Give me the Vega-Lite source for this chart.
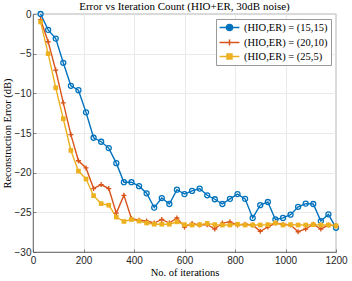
{
  "$schema": "https://vega.github.io/schema/vega-lite/v6.json",
  "width": 303,
  "height": 238,
  "padding": {"left": 2, "top": 0, "right": 12, "bottom": 2},
  "title": {"text": "Error vs Iteration Count (HIO+ER, 30dB noise)", "font": "Liberation Serif", "fontSize": 11, "fontWeight": "normal", "color": "#000", "offset": -3},
  "config": {
    "view": {"stroke": "#555", "strokeWidth": 0.7},
    "axis": {
      "grid": true, "gridColor": "#e4e4e4", "gridWidth": 0.8,
      "domainColor": "#555", "domainWidth": 0.7,
      "ticks": true, "tickSize": -3, "tickColor": "#555", "tickWidth": 0.7,
      "labelFlush": false, "labelOverlap": false,
      "labelFont": "Liberation Sans", "labelFontSize": 10, "labelColor": "#262626",
      "titleFont": "Liberation Serif", "titleFontSize": 10.5, "titleFontWeight": "normal", "titleColor": "#000"
    }
  },
  "data": {"values": [
    {"x":30,"y":0,"s":"(HIO,ER) = (15,15)"},
    {"x":60,"y":-2.0,"s":"(HIO,ER) = (15,15)"},
    {"x":90,"y":-3.1,"s":"(HIO,ER) = (15,15)"},
    {"x":120,"y":-6.15,"s":"(HIO,ER) = (15,15)"},
    {"x":150,"y":-9.05,"s":"(HIO,ER) = (15,15)"},
    {"x":180,"y":-9.6,"s":"(HIO,ER) = (15,15)"},
    {"x":210,"y":-12.4,"s":"(HIO,ER) = (15,15)"},
    {"x":240,"y":-15.6,"s":"(HIO,ER) = (15,15)"},
    {"x":270,"y":-16.1,"s":"(HIO,ER) = (15,15)"},
    {"x":300,"y":-16.9,"s":"(HIO,ER) = (15,15)"},
    {"x":330,"y":-18.8,"s":"(HIO,ER) = (15,15)"},
    {"x":360,"y":-21.2,"s":"(HIO,ER) = (15,15)"},
    {"x":390,"y":-21.2,"s":"(HIO,ER) = (15,15)"},
    {"x":420,"y":-21.7,"s":"(HIO,ER) = (15,15)"},
    {"x":450,"y":-22.6,"s":"(HIO,ER) = (15,15)"},
    {"x":480,"y":-24.4,"s":"(HIO,ER) = (15,15)"},
    {"x":510,"y":-23.2,"s":"(HIO,ER) = (15,15)"},
    {"x":540,"y":-23.95,"s":"(HIO,ER) = (15,15)"},
    {"x":570,"y":-22.15,"s":"(HIO,ER) = (15,15)"},
    {"x":600,"y":-22.7,"s":"(HIO,ER) = (15,15)"},
    {"x":630,"y":-22.3,"s":"(HIO,ER) = (15,15)"},
    {"x":660,"y":-22.0,"s":"(HIO,ER) = (15,15)"},
    {"x":690,"y":-22.85,"s":"(HIO,ER) = (15,15)"},
    {"x":720,"y":-23.35,"s":"(HIO,ER) = (15,15)"},
    {"x":750,"y":-23.95,"s":"(HIO,ER) = (15,15)"},
    {"x":780,"y":-23.3,"s":"(HIO,ER) = (15,15)"},
    {"x":810,"y":-22.7,"s":"(HIO,ER) = (15,15)"},
    {"x":840,"y":-23.3,"s":"(HIO,ER) = (15,15)"},
    {"x":870,"y":-25.7,"s":"(HIO,ER) = (15,15)"},
    {"x":900,"y":-24.1,"s":"(HIO,ER) = (15,15)"},
    {"x":930,"y":-23.7,"s":"(HIO,ER) = (15,15)"},
    {"x":960,"y":-25.9,"s":"(HIO,ER) = (15,15)"},
    {"x":990,"y":-25.7,"s":"(HIO,ER) = (15,15)"},
    {"x":1020,"y":-25.3,"s":"(HIO,ER) = (15,15)"},
    {"x":1050,"y":-24.3,"s":"(HIO,ER) = (15,15)"},
    {"x":1080,"y":-23.9,"s":"(HIO,ER) = (15,15)"},
    {"x":1110,"y":-23.95,"s":"(HIO,ER) = (15,15)"},
    {"x":1140,"y":-26.1,"s":"(HIO,ER) = (15,15)"},
    {"x":1170,"y":-25.25,"s":"(HIO,ER) = (15,15)"},
    {"x":1200,"y":-26.95,"s":"(HIO,ER) = (15,15)"},
    {"x":30,"y":-0.7,"s":"(HIO,ER) = (20,10)"},
    {"x":60,"y":-3.5,"s":"(HIO,ER) = (20,10)"},
    {"x":90,"y":-7.07,"s":"(HIO,ER) = (20,10)"},
    {"x":120,"y":-11.2,"s":"(HIO,ER) = (20,10)"},
    {"x":150,"y":-15.2,"s":"(HIO,ER) = (20,10)"},
    {"x":180,"y":-18.5,"s":"(HIO,ER) = (20,10)"},
    {"x":210,"y":-19.4,"s":"(HIO,ER) = (20,10)"},
    {"x":240,"y":-22.0,"s":"(HIO,ER) = (20,10)"},
    {"x":270,"y":-21.5,"s":"(HIO,ER) = (20,10)"},
    {"x":300,"y":-22.0,"s":"(HIO,ER) = (20,10)"},
    {"x":330,"y":-25.1,"s":"(HIO,ER) = (20,10)"},
    {"x":360,"y":-22.85,"s":"(HIO,ER) = (20,10)"},
    {"x":390,"y":-25.8,"s":"(HIO,ER) = (20,10)"},
    {"x":420,"y":-26.0,"s":"(HIO,ER) = (20,10)"},
    {"x":450,"y":-26.1,"s":"(HIO,ER) = (20,10)"},
    {"x":480,"y":-26.35,"s":"(HIO,ER) = (20,10)"},
    {"x":510,"y":-25.9,"s":"(HIO,ER) = (20,10)"},
    {"x":540,"y":-26.35,"s":"(HIO,ER) = (20,10)"},
    {"x":570,"y":-25.7,"s":"(HIO,ER) = (20,10)"},
    {"x":600,"y":-26.85,"s":"(HIO,ER) = (20,10)"},
    {"x":630,"y":-26.4,"s":"(HIO,ER) = (20,10)"},
    {"x":660,"y":-26.6,"s":"(HIO,ER) = (20,10)"},
    {"x":690,"y":-26.55,"s":"(HIO,ER) = (20,10)"},
    {"x":720,"y":-27.1,"s":"(HIO,ER) = (20,10)"},
    {"x":750,"y":-26.35,"s":"(HIO,ER) = (20,10)"},
    {"x":780,"y":-26.2,"s":"(HIO,ER) = (20,10)"},
    {"x":810,"y":-26.6,"s":"(HIO,ER) = (20,10)"},
    {"x":840,"y":-26.5,"s":"(HIO,ER) = (20,10)"},
    {"x":870,"y":-26.6,"s":"(HIO,ER) = (20,10)"},
    {"x":900,"y":-27.4,"s":"(HIO,ER) = (20,10)"},
    {"x":930,"y":-26.85,"s":"(HIO,ER) = (20,10)"},
    {"x":960,"y":-26.35,"s":"(HIO,ER) = (20,10)"},
    {"x":990,"y":-26.5,"s":"(HIO,ER) = (20,10)"},
    {"x":1020,"y":-26.6,"s":"(HIO,ER) = (20,10)"},
    {"x":1050,"y":-27.45,"s":"(HIO,ER) = (20,10)"},
    {"x":1080,"y":-27.1,"s":"(HIO,ER) = (20,10)"},
    {"x":1110,"y":-26.5,"s":"(HIO,ER) = (20,10)"},
    {"x":1140,"y":-27.1,"s":"(HIO,ER) = (20,10)"},
    {"x":1170,"y":-26.6,"s":"(HIO,ER) = (20,10)"},
    {"x":1200,"y":-26.7,"s":"(HIO,ER) = (20,10)"},
    {"x":30,"y":-1.0,"s":"(HIO,ER) = (25,5)"},
    {"x":60,"y":-5.0,"s":"(HIO,ER) = (25,5)"},
    {"x":90,"y":-9.3,"s":"(HIO,ER) = (25,5)"},
    {"x":120,"y":-13.2,"s":"(HIO,ER) = (25,5)"},
    {"x":150,"y":-17.2,"s":"(HIO,ER) = (25,5)"},
    {"x":180,"y":-19.8,"s":"(HIO,ER) = (25,5)"},
    {"x":210,"y":-20.8,"s":"(HIO,ER) = (25,5)"},
    {"x":240,"y":-22.9,"s":"(HIO,ER) = (25,5)"},
    {"x":270,"y":-23.9,"s":"(HIO,ER) = (25,5)"},
    {"x":300,"y":-24.1,"s":"(HIO,ER) = (25,5)"},
    {"x":330,"y":-25.6,"s":"(HIO,ER) = (25,5)"},
    {"x":360,"y":-26.15,"s":"(HIO,ER) = (25,5)"},
    {"x":390,"y":-25.9,"s":"(HIO,ER) = (25,5)"},
    {"x":420,"y":-26.1,"s":"(HIO,ER) = (25,5)"},
    {"x":450,"y":-26.35,"s":"(HIO,ER) = (25,5)"},
    {"x":480,"y":-26.5,"s":"(HIO,ER) = (25,5)"},
    {"x":510,"y":-26.5,"s":"(HIO,ER) = (25,5)"},
    {"x":540,"y":-26.5,"s":"(HIO,ER) = (25,5)"},
    {"x":570,"y":-26.2,"s":"(HIO,ER) = (25,5)"},
    {"x":600,"y":-26.55,"s":"(HIO,ER) = (25,5)"},
    {"x":630,"y":-26.6,"s":"(HIO,ER) = (25,5)"},
    {"x":660,"y":-26.55,"s":"(HIO,ER) = (25,5)"},
    {"x":690,"y":-26.4,"s":"(HIO,ER) = (25,5)"},
    {"x":720,"y":-26.55,"s":"(HIO,ER) = (25,5)"},
    {"x":750,"y":-26.6,"s":"(HIO,ER) = (25,5)"},
    {"x":780,"y":-26.6,"s":"(HIO,ER) = (25,5)"},
    {"x":810,"y":-26.5,"s":"(HIO,ER) = (25,5)"},
    {"x":840,"y":-26.6,"s":"(HIO,ER) = (25,5)"},
    {"x":870,"y":-26.6,"s":"(HIO,ER) = (25,5)"},
    {"x":900,"y":-26.6,"s":"(HIO,ER) = (25,5)"},
    {"x":930,"y":-26.55,"s":"(HIO,ER) = (25,5)"},
    {"x":960,"y":-26.35,"s":"(HIO,ER) = (25,5)"},
    {"x":990,"y":-26.6,"s":"(HIO,ER) = (25,5)"},
    {"x":1020,"y":-26.55,"s":"(HIO,ER) = (25,5)"},
    {"x":1050,"y":-26.6,"s":"(HIO,ER) = (25,5)"},
    {"x":1080,"y":-26.6,"s":"(HIO,ER) = (25,5)"},
    {"x":1110,"y":-26.55,"s":"(HIO,ER) = (25,5)"},
    {"x":1140,"y":-26.6,"s":"(HIO,ER) = (25,5)"},
    {"x":1170,"y":-26.6,"s":"(HIO,ER) = (25,5)"},
    {"x":1200,"y":-26.7,"s":"(HIO,ER) = (25,5)"}
  ]},
  "encoding": {
    "x": {"field": "x", "type": "quantitative", "title": "No. of iterations",
      "scale": {"domain": [0, 1200], "nice": false},
      "axis": {"values": [0, 200, 400, 600, 800, 1000, 1200], "format": "d", "labelPadding": 6, "titlePadding": 2}},
    "y": {"field": "y", "type": "quantitative", "title": "Reconstruction Error (dB)",
      "scale": {"domain": [-30, 0], "nice": false},
      "axis": {"values": [-30, -25, -20, -15, -10, -5, 0], "format": "d", "labelPadding": 5, "titlePadding": 2}},
    "color": {"field": "s", "type": "nominal",
      "scale": {"domain": ["(HIO,ER) = (15,15)", "(HIO,ER) = (20,10)", "(HIO,ER) = (25,5)"], "range": ["#0072BD", "#D95319", "#EDB120"]},
      "legend": {
        "title": null, "orient": "top-right", "offset": 5,
        "fillColor": "white", "strokeColor": "#999", "padding": 3,
        "labelFont": "Liberation Serif", "labelFontSize": 10.5, "labelColor": "#000",
        "symbolSize": 81, "symbolStrokeWidth": 1.5, "symbolOffset": 5, "labelOffset": 9, "rowPadding": 2, "symbolOpacity": 1
      }}
  },
  "layer": [
    {"mark": {"type": "line", "strokeWidth": 1.4}},
    {"transform": [{"filter": {"field": "s", "equal": "(HIO,ER) = (15,15)"}}],
     "mark": {"type": "point", "shape": "circle", "filled": false, "opacity": 1, "strokeWidth": 1.3, "size": 25}},
    {"transform": [{"filter": {"field": "s", "equal": "(HIO,ER) = (20,10)"}}],
     "mark": {"type": "point", "shape": "M-1,0H1M0,-1V1", "filled": false, "opacity": 1, "strokeWidth": 1.3, "size": 25}},
    {"transform": [{"filter": {"field": "s", "equal": "(HIO,ER) = (25,5)"}}],
     "mark": {"type": "point", "shape": "square", "filled": true, "opacity": 1, "strokeWidth": 1, "size": 22}},
    {"transform": [{"filter": "false"}],
     "mark": {"type": "point", "filled": false, "opacity": 1, "strokeWidth": 1.5, "size": 81},
     "encoding": {
       "shape": {"field": "s", "type": "nominal",
         "scale": {"domain": ["(HIO,ER) = (15,15)", "(HIO,ER) = (20,10)", "(HIO,ER) = (25,5)"],
           "range": ["M-2.2,0H-0.67M0.67,0H2.2M-0.67,0A0.67,0.67 0 1,0 0.67,0A0.67,0.67 0 1,0 -0.67,0", "M-2.2,0H2.2M0,-0.67V0.67", "M-2.2,0H2.2M-0.55,-0.55H0.55V0.55H-0.55Z"]}},
       "fill": {"field": "s", "type": "nominal",
         "scale": {"domain": ["(HIO,ER) = (15,15)", "(HIO,ER) = (20,10)", "(HIO,ER) = (25,5)"], "range": ["transparent", "transparent", "#EDB120"]}}
     }}
  ]
}
